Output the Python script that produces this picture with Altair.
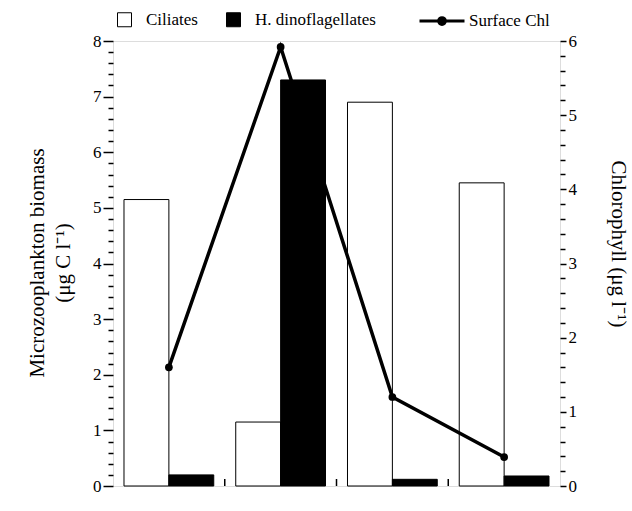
import altair as alt
import pandas as pd

months = ["Nov 99", "Feb 99", "May 99", "Aug 99"]
ciliates = [5.15, 1.15, 6.9, 5.45]
dinos = [0.2, 7.3, 0.12, 0.18]
chl = [1.6, 5.92, 1.2, 0.39]
series_names = ["Ciliates", "H. dinoflagellates"]

bars_df = pd.DataFrame(
    [{"month": m, "series": series_names[0], "value": v} for m, v in zip(months, ciliates)]
    + [{"month": m, "series": series_names[1], "value": v} for m, v in zip(months, dinos)]
)
chl_df = pd.DataFrame({"month": months, "chl": chl, "series": ["Surface Chl"] * len(months)})
sep_df = pd.DataFrame({"month": months[1:]})

FONT = "Liberation Serif"
W, H = 447, 445

xscale = alt.Scale(domain=months, paddingInner=0, paddingOuter=0)
left_vals = [round(i * 0.2, 1) for i in range(41)]
right_vals = [round(i * 0.2, 1) for i in range(31)]
major_test = "abs(datum.value - round(datum.value)) < 0.001"
label_expr = f"{major_test} ? format(datum.value, 'd') : ''"

x_axis = alt.Axis(
    title=None, domain=False, ticks=False, labelAngle=0,
    labelFont=FONT, labelFontSize=17, labelColor="black", labelPadding=9,
)

bars = alt.Chart(bars_df).mark_bar(stroke="black", strokeWidth=1).encode(
    x=alt.X("month:N", sort=months, scale=xscale, axis=x_axis),
    xOffset=alt.XOffset("series:N", sort=series_names,
                        scale=alt.Scale(domain=series_names, paddingInner=0, paddingOuter=0.245)),
    y=alt.Y("value:Q", scale=alt.Scale(domain=[0, 8], nice=False),
            axis=alt.Axis(
                orient="left", values=left_vals, tickCount=100, domain=False,
                labelExpr=label_expr,
                tickSize={"condition": {"test": major_test, "value": 10}, "value": 5},
                tickColor="black", tickWidth=1.5, labelPadding=2,
                labelFont=FONT, labelFontSize=17, labelColor="black",
                grid=False,
                title=["Microzooplankton biomass", "(μg C l⁻¹)"],
                titleFont=FONT, titleFontSize=21, titleFontWeight="normal",
                titleColor="black", titleAngle=-90, titleBaseline="middle",
                titleLineHeight=26, titleX=-76, titleY=H / 2 - 1, titleAlign="center",
            )),
    fill=alt.Fill("series:N", sort=series_names,
                  scale=alt.Scale(domain=series_names, range=["white", "black"]),
                  legend=alt.Legend(
                      title=None, orient="none", direction="horizontal",
                      legendX=3, legendY=-30, padding=0,
                      symbolType="square", symbolSize=196,
                      symbolStrokeColor="black", symbolStrokeWidth=1,
                      labelFont=FONT, labelFontSize=17, labelColor="black",
                      labelOffset=13, columnPadding=26,
                  )),
)

seps = alt.Chart(sep_df).mark_rule(color="black", strokeWidth=1.5).encode(
    x=alt.X("month:N", sort=months, scale=xscale, bandPosition=0, axis=None),
    y=alt.value(H),
    y2=alt.value(H - 7),
)

right_axis = alt.Axis(
    orient="right", values=right_vals, tickCount=100, domain=False,
    labelExpr=label_expr,
    tickSize={"condition": {"test": major_test, "value": 6}, "value": 5},
    tickColor="black", tickWidth=1.5, labelPadding=2,
    labelFont=FONT, labelFontSize=17, labelColor="black", grid=False,
    title="Chlorophyll (μg l⁻¹)", titleFont=FONT, titleFontSize=21,
    titleFontWeight="normal", titleColor="black", titleAngle=90,
    titleBaseline="middle", titleX=57, titleY=H / 2 - 20, titleAlign="center",
)

line = alt.Chart(chl_df).mark_line(strokeWidth=3.5).encode(
    x=alt.X("month:N", sort=months, scale=xscale),
    y=alt.Y("chl:Q", scale=alt.Scale(domain=[0, 6], nice=False), axis=right_axis),
    stroke=alt.Stroke("series:N",
                      scale=alt.Scale(domain=["Surface Chl"], range=["black"]),
                      legend=alt.Legend(
                          title=None, orient="none", legendX=305, legendY=-44, padding=0,
                          symbolType="M-1,0L1,0M0.15,0A0.15,0.15,0,1,1,-0.15,0A0.15,0.15,0,1,1,0.15,0Z",
                          symbolSize=2025, symbolStrokeWidth=3, symbolFillColor="black",
                          labelFont=FONT, labelFontSize=17, labelColor="black",
                          labelOffset=3,
                      )),
)
points = alt.Chart(chl_df).mark_point(filled=True, size=60, color="black", opacity=1).encode(
    x=alt.X("month:N", sort=months, scale=xscale),
    y=alt.Y("chl:Q", scale=alt.Scale(domain=[0, 6], nice=False), axis=right_axis),
)

right_layer = alt.layer(line, points)

chart = alt.layer(bars, seps, right_layer).resolve_scale(y="independent").properties(
    width=W, height=H,
    autosize=alt.AutoSizeParams(type="none"),
    padding={"left": 113, "top": 41, "right": 72, "bottom": 25},
).configure_view(stroke="black", strokeWidth=2).configure(background="white")

chart.save("out.html", embed_options={"renderer": "svg", "actions": False})
